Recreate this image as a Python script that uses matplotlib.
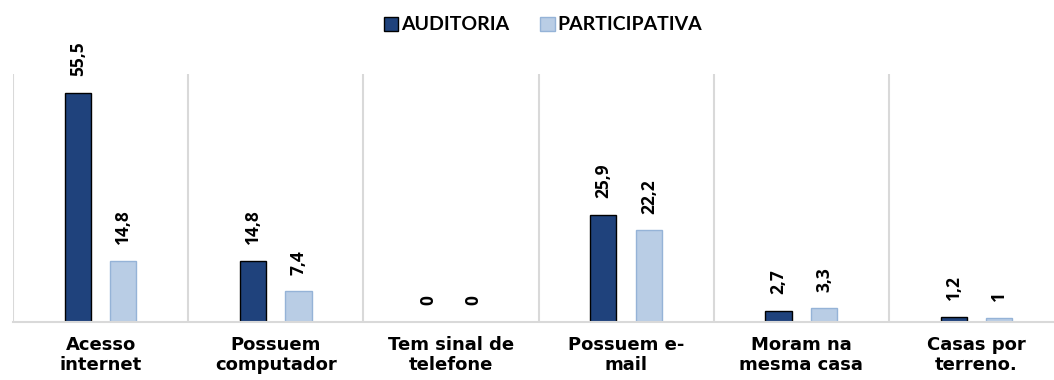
import numpy as np
import matplotlib.pyplot as plt

# Dados
categorias = ['Acesso\ninternet', 'Possuem\ncomputador', 'Tem sinal de\ntelefone',
              'Possuem e-\nmail', 'Moram na\nmesma casa', 'Casas por\nterreno.']
auditoria = [55.5, 14.8, 0, 25.9, 2.7, 1.2]
participativa = [14.8, 7.4, 0, 22.2, 3.3, 1]
rotulos_aud = ['55,5', '14,8', '0', '25,9', '2,7', '1,2']
rotulos_part = ['14,8', '7,4', '0', '22,2', '3,3', '1']

cor_aud = '#1f427c'
cor_part = '#b9cde5'

fig = plt.figure(figsize=(10.54, 3.8), dpi=100)
ax = fig.add_axes([13 / 1054, 58 / 380, 1051 / 1054, 248 / 380])

x = np.arange(len(categorias))
off = 0.13
w = 0.15
b1 = ax.bar(x - off, auditoria, w, color=cor_aud, edgecolor='black', linewidth=1,
            label='AUDITORIA')
b2 = ax.bar(x + off, participativa, w, color=cor_part, edgecolor='#95b3d7', linewidth=1,
            label='PARTICIPATIVA')

for barras, rot in [(b1, rotulos_aud), (b2, rotulos_part)]:
    for b, t in zip(barras, rot):
        ax.annotate(t, (b.get_x() + b.get_width() / 2, b.get_height()),
                    xytext=(0, 12), textcoords='offset points', rotation=90,
                    ha='center', va='bottom', fontsize=12.5, fontweight='bold',
                    family='Open Sans', color='black')

ax.set_xlim(-0.5, len(categorias) - 0.5)
ax.set_ylim(0, 60)
ax.set_yticks([])
ax.set_xticks(x)
ax.set_xticklabels(categorias, fontsize=13, fontweight='bold', family='DejaVu Sans',
                   linespacing=1.12)
ax.tick_params(axis='x', length=0, pad=10)
ax.set_xticks(np.arange(-0.5, len(categorias)), minor=True)
ax.tick_params(axis='x', which='minor', length=0)
ax.grid(True, which='minor', axis='x', color='#d9d9d9', linewidth=1.5)
ax.set_axisbelow(True)
for s in ['top', 'right', 'left']:
    ax.spines[s].set_visible(False)
ax.spines['bottom'].set_color('#d9d9d9')
ax.spines['bottom'].set_linewidth(1.5)

fig.legend(loc='center', bbox_to_anchor=(543 / 1054, 1 - 25 / 380), ncol=2, frameon=False,
           prop={'family': 'Lato', 'weight': 'bold', 'size': 14},
           handlelength=0.75, handleheight=0.75, handletextpad=0.15, columnspacing=1.6)

fig.savefig('out.png', dpi=100)
